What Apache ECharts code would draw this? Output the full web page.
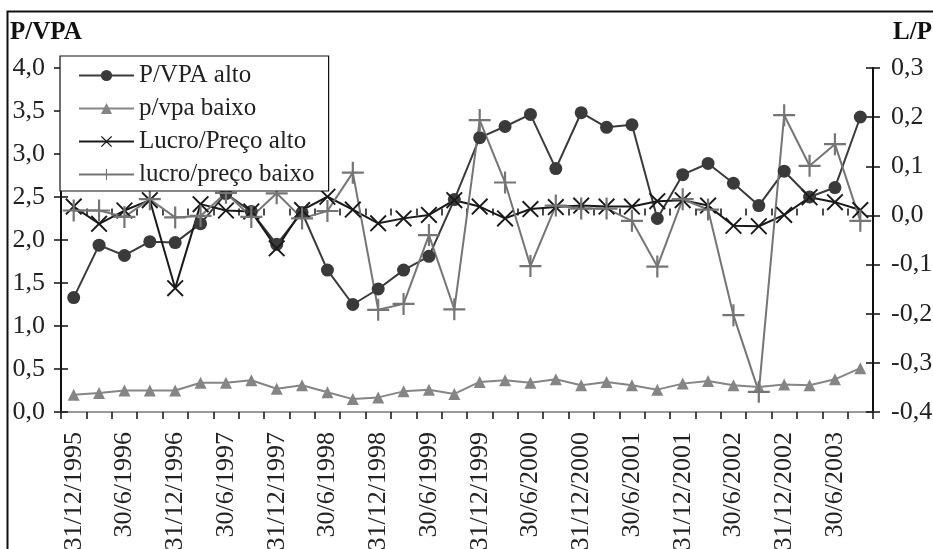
<!DOCTYPE html>
<html>
<head>
<meta charset="utf-8">
<script src="https://cdn.jsdelivr.net/npm/echarts@6/dist/echarts.min.js"></script>
<style>
html,body{margin:0;padding:0;background:#fff;}
#chart{width:933px;height:549px;}
</style>
</head>
<body>
<div id="chart"></div>
<script>
const categories = [
  '31/12/1995','31/3/1996','30/6/1996','30/9/1996',
  '31/12/1996','31/3/1997','30/6/1997','30/9/1997',
  '31/12/1997','31/3/1998','30/6/1998','30/9/1998',
  '31/12/1998','31/3/1999','30/6/1999','30/9/1999',
  '31/12/1999','31/3/2000','30/6/2000','30/9/2000',
  '31/12/2000','31/3/2001','30/6/2001','30/9/2001',
  '31/12/2001','31/3/2002','30/6/2002','30/9/2002',
  '31/12/2002','31/3/2003','30/6/2003','30/9/2003'
];
const pvpaAlto = [1.33,1.94,1.82,1.98,1.97,2.19,2.54,2.33,1.95,2.32,1.65,1.25,1.43,1.65,1.81,2.47,
                  3.19,3.32,3.46,2.83,3.48,3.31,3.34,2.25,2.76,2.89,2.66,2.40,2.80,2.50,2.61,3.43];
const pvpaBaixo = [0.20,0.22,0.25,0.25,0.25,0.34,0.34,0.37,0.27,0.31,0.23,0.15,0.17,0.24,0.26,0.21,
                   0.35,0.37,0.34,0.38,0.31,0.35,0.31,0.26,0.33,0.36,0.31,0.29,0.32,0.31,0.38,0.51];
const lucroAlto = [0.018,-0.017,0.010,0.031,-0.148,0.023,0.010,0.008,-0.067,0.011,0.038,0.012,-0.016,-0.006,0.001,0.031,
                   0.018,-0.006,0.013,0.017,0.020,0.018,0.018,0.029,0.031,0.020,-0.021,-0.022,0.001,0.037,0.027,0.011];
const lucroBaixo = [0.010,0.010,-0.003,0.033,-0.004,-0.001,0.046,-0.003,0.045,-0.006,0.009,0.087,-0.192,-0.180,-0.040,-0.191,
                    0.194,0.067,-0.103,0.020,0.014,0.014,-0.011,-0.104,0.033,0.012,-0.203,-0.359,0.204,0.101,0.145,-0.011];
const seriesNames = ['P/VPA alto','p/vpa baixo','Lucro/Preço alto','lucro/preço baixo'];
const leftTitle = 'P/VPA';
const rightTitle = 'L/P';

const FONT = '"Liberation Serif", "Times New Roman", serif';
const fmt = v => v.toFixed(1).replace('.', ',');
const X_PATH = 'path://M0,8L8,0L50,42L92,0L100,8L58,50L100,92L92,100L50,58L8,100L0,92L42,50Z';
const PLUS_PATH = 'path://M45,0H55V45H100V55H55V100H45V55H0V45H45Z';

const chart = echarts.init(document.getElementById('chart'), null, {renderer: 'canvas'});
const labelStyle = {fontFamily: FONT, fontSize: 26, color: '#222'};
const grid = {left: 61, right: 60, top: 68, bottom: 137, containLabel: false, outerBoundsMode: 'none'};

chart.setOption({
  animation: false,
  backgroundColor: '#fff',
  grid: grid,
  graphic: [
    {type: 'rect', z: -1, shape: {x: 7.5, y: 11.5, width: 1000, height: 1000},
     style: {fill: 'none', stroke: '#111', lineWidth: 2}},
    {type: 'text', left: 10, top: 20,
     style: {text: leftTitle, font: 'bold 25px ' + FONT, fill: '#111'}},
    {type: 'text', right: 1, top: 20,
     style: {text: rightTitle, font: 'bold 25px ' + FONT, fill: '#111'}}
  ],
  legend: {
    orient: 'vertical', left: 60, top: 56,
    padding: [7, 14, 4, 18], itemGap: 8, itemWidth: 55, itemHeight: 14,
    backgroundColor: '#fff', borderColor: '#111', borderWidth: 1.2,
    selectedMode: false,
    textStyle: {fontFamily: FONT, fontSize: 25, color: '#222'},
    data: seriesNames
  },
  xAxis: [
    {type: 'category', data: categories, position: 'bottom', boundaryGap: true,
     axisLine: {show: true, lineStyle: {color: '#111', width: 2}},
     axisTick: {show: true, inside: false, length: 7, interval: 0, lineStyle: {color: '#111', width: 1.5}},
     axisLabel: Object.assign({rotate: 90, interval: 1, margin: 20}, labelStyle),
     splitLine: {show: false}},
    {type: 'category', data: categories, position: 'bottom', boundaryGap: true,
     axisLine: {show: false},
     axisTick: {show: true, inside: true, length: 7, interval: 0, lineStyle: {color: '#111', width: 1.5}},
     axisLabel: {show: false}, splitLine: {show: false}},
    {type: 'category', data: categories, position: 'top', boundaryGap: true,
     axisLine: {show: true, lineStyle: {color: '#999', width: 2}},
     axisTick: {show: false}, axisLabel: {show: false}, splitLine: {show: false}}
  ],
  yAxis: [
    {type: 'value', position: 'left', min: 0, max: 4, interval: 0.5,
     axisLine: {show: true, lineStyle: {color: '#111', width: 2}},
     axisTick: {show: true, inside: false, length: 7, lineStyle: {color: '#111', width: 1.5}},
     axisLabel: Object.assign({formatter: fmt, margin: 16}, labelStyle),
     splitLine: {show: false}},
    {type: 'value', position: 'right', min: -0.4, max: 0.3, interval: 0.1,
     axisLine: {show: true, lineStyle: {color: '#111', width: 2}},
     axisTick: {show: true, inside: false, length: 7, lineStyle: {color: '#111', width: 1.5}},
     axisLabel: Object.assign({formatter: fmt, margin: 18}, labelStyle),
     splitLine: {show: false}},
    {type: 'value', position: 'left', min: 0, max: 4, interval: 0.5,
     axisLine: {show: false},
     axisTick: {show: true, inside: true, length: 7, lineStyle: {color: '#111', width: 1.5}},
     axisLabel: {show: false}, splitLine: {show: false}},
    {type: 'value', position: 'right', min: -0.4, max: 0.3, interval: 0.1,
     axisLine: {show: false},
     axisTick: {show: true, inside: true, length: 7, lineStyle: {color: '#111', width: 1.5}},
     axisLabel: {show: false}, splitLine: {show: false}}
  ],
  series: [
    {name: seriesNames[0], type: 'line', xAxisIndex: 0, yAxisIndex: 0, data: pvpaAlto,
     symbol: 'circle', symbolSize: 13, showAllSymbol: true,
     lineStyle: {color: '#3a3a3a', width: 2}, itemStyle: {color: '#3a3a3a'}},
    {name: seriesNames[1], type: 'line', xAxisIndex: 0, yAxisIndex: 0, data: pvpaBaixo,
     symbol: 'triangle', symbolSize: 12, showAllSymbol: true,
     lineStyle: {color: '#858585', width: 2}, itemStyle: {color: '#858585'}},
    {name: seriesNames[2], type: 'line', xAxisIndex: 0, yAxisIndex: 1, data: lucroAlto,
     symbol: X_PATH, symbolSize: 17, showAllSymbol: true,
     lineStyle: {color: '#1a1a1a', width: 2}, itemStyle: {color: '#1a1a1a'}},
    {name: seriesNames[3], type: 'line', xAxisIndex: 0, yAxisIndex: 1, data: lucroBaixo,
     symbol: PLUS_PATH, symbolSize: 22, showAllSymbol: true,
     lineStyle: {color: '#757575', width: 2}, itemStyle: {color: '#757575'}}
  ]
});
</script>
</body>
</html>
